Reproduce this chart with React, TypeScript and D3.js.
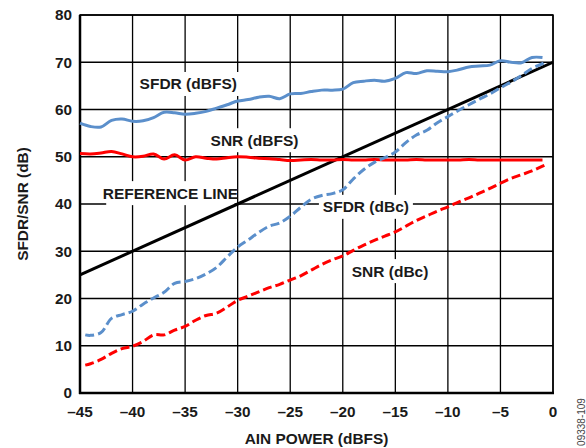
import * as React from "react";
import * as d3 from "d3";

// AIN power (dBFS) sample points
const ainFull = [-45, -44, -43, -42, -41, -40, -39, -38, -37, -36, -35, -34, -33, -32, -31, -30, -29, -28, -27, -26, -25, -24, -23, -22, -21, -20, -19, -18, -17, -16, -15, -14, -13, -12, -11, -10, -9, -8, -7, -6, -5, -4, -3, -2, -1];

const sfdrDbfs = [57.1, 56.4, 56.3, 57.7, 58.0, 57.5, 57.6, 58.3, 59.4, 59.3, 59.0, 59.2, 59.6, 60.3, 61.0, 61.8, 62.1, 62.6, 62.8, 62.3, 63.3, 63.4, 63.8, 64.1, 64.1, 64.3, 65.7, 66.0, 66.2, 66.0, 66.6, 67.8, 67.6, 68.2, 68.1, 68.0, 68.4, 69.0, 69.2, 69.4, 70.3, 70.0, 69.9, 71.0, 71.0];
const snrDbfs = [50.7, 50.6, 50.8, 51.1, 50.6, 50.0, 50.1, 50.6, 49.5, 50.4, 49.3, 50.0, 49.7, 49.5, 49.8, 50.0, 49.9, 49.7, 49.6, 49.4, 49.2, 49.3, 49.4, 49.3, 49.3, 49.4, 49.3, 49.3, 49.4, 49.3, 49.3, 49.3, 49.4, 49.3, 49.3, 49.3, 49.3, 49.4, 49.3, 49.3, 49.3, 49.3, 49.3, 49.3, 49.3];

const ainDbc = [-44.5, -44, -43, -42, -41, -40, -39, -38, -37, -36, -35, -34, -33, -32, -31, -30, -29, -28, -27, -26, -25, -24, -23, -22, -21, -20, -19, -18, -17, -16, -15, -14, -13, -12, -11, -10, -9, -8, -7, -6, -5, -4, -3, -2, -1, -0.6];
const sfdrDbc = [12.3, 12.2, 12.8, 15.8, 16.6, 17.3, 18.8, 20.1, 21.3, 23.2, 23.6, 24.2, 25.2, 26.6, 28.8, 30.9, 32.4, 34.0, 35.3, 36.0, 37.4, 39.3, 41.0, 41.8, 42.2, 43.0, 45.3, 47.3, 48.8, 49.8, 51.0, 53.0, 54.6, 55.6, 57.2, 58.5, 59.8, 61.0, 62.2, 63.3, 64.6, 65.8, 67.2, 68.7, 69.7, 70.3];
const snrDbc = [5.9, 6.2, 7.1, 8.4, 9.4, 9.9, 10.9, 12.3, 12.3, 13.3, 14.1, 15.4, 16.4, 16.9, 18.2, 19.6, 20.5, 21.4, 22.3, 23.0, 23.9, 24.8, 26.0, 27.2, 28.2, 29.0, 30.2, 31.3, 32.3, 33.2, 34.1, 35.3, 36.5, 37.5, 38.5, 39.4, 40.4, 41.3, 42.3, 43.3, 44.4, 45.4, 46.2, 47.0, 48.0, 48.4];

const refX = [-45, 0];
const refY = [25, 70];

const xTicks = [-45, -40, -35, -30, -25, -20, -15, -10, -5, 0];
const yTicks = [0, 10, 20, 30, 40, 50, 60, 70, 80];

const labelText = ["SFDR (dBFS)", "SNR (dBFS)", "REFERENCE LINE", "SFDR (dBc)", "SNR (dBc)"];
const labelX = [-34.7, -28.4, -36.4, -17.8, -15.5];
const labelY = [65.4, 53.5, 42.3, 39.4, 25.8];

const BLUE = "#5b8fcb";
const RED = "#ff0000";
const INK = "#1a1a1a";
const FONT = "'Liberation Sans', Arial, Helvetica, sans-serif";

export default function App() {
  const width = 586, height = 448;
  const margin = { top: 15, right: 33, bottom: 55, left: 80 };
  const x = d3.scaleLinear().domain([-45, 0]).range([margin.left, width - margin.right]);
  const y = d3.scaleLinear().domain([0, 80]).range([height - margin.bottom, margin.top]);

  const line = d3.line<[number, number]>()
    .x(d => x(d[0]))
    .y(d => y(d[1]))
    .curve(d3.curveCatmullRom.alpha(0.5));

  const zip = (xs: number[], ys: number[]) => xs.map((v, i) => [v, ys[i]] as [number, number]);

  const fmt = (v: number) => (v < 0 ? "\u2013" + Math.abs(v) : String(v));

  return (
    <svg width={width} height={height} style={{ position: "absolute", left: 0, top: 0, background: "#fff" }}
      fontFamily={FONT} fontWeight="bold">
      {/* grid */}
      <g stroke="#000" strokeWidth={1.3}>
        {xTicks.map(t => (
          <line key={"vx" + t} x1={x(t)} x2={x(t)} y1={y(80)} y2={y(0)} />
        ))}
        {yTicks.map(t => (
          <line key={"hy" + t} x1={x(-45)} x2={x(0)} y1={y(t)} y2={y(t)} />
        ))}
      </g>
      <rect x={x(-45)} y={y(80)} width={x(0) - x(-45)} height={y(0) - y(80)} fill="none" stroke="#000" strokeWidth={1.5} />
      <line x1={x(-45)} x2={x(-45)} y1={y(80)} y2={y(0) + 1} stroke="#000" strokeWidth={2.5} />
      <line x1={x(-45) - 1} x2={x(0) + 1} y1={y(0)} y2={y(0)} stroke="#000" strokeWidth={2.5} />

      {/* label boxes hide grid lines */}
      {labelText.map((t, i) => {
        const w = t.length * 8.6 + 8;
        return <rect key={"lb" + i} x={x(labelX[i]) - w / 2} y={y(labelY[i]) - 12} width={w} height={24} fill="#fff" />;
      })}

      {/* curves */}
      <g fill="none" strokeLinecap="butt" strokeLinejoin="round">
        <path d={line(zip(refX, refY)) || ""} stroke="#000" strokeWidth={3} />
        <path d={line(zip(ainFull, sfdrDbfs)) || ""} stroke={BLUE} strokeWidth={3} />
        <path d={line(zip(ainFull, snrDbfs)) || ""} stroke={RED} strokeWidth={3} />
        <path d={line(zip(ainDbc, sfdrDbc)) || ""} stroke={BLUE} strokeWidth={3} strokeDasharray="9,4" />
        <path d={line(zip(ainDbc, snrDbc)) || ""} stroke={RED} strokeWidth={3} strokeDasharray="9,4" />
      </g>

      {/* curve labels */}
      {labelText.map((t, i) => (
        <text key={"lt" + i} x={x(labelX[i])} y={y(labelY[i])} dy="0.35em" textAnchor="middle" fontSize={15.5} fill={INK}>
          {t}
        </text>
      ))}

      {/* tick labels */}
      {yTicks.map(t => (
        <text key={"yt" + t} x={x(-45) - 8} y={y(t)} dy="0.35em" textAnchor="end" fontSize={15.3} fill={INK}>
          {fmt(t)}
        </text>
      ))}
      {xTicks.map(t => (
        <text key={"xt" + t} x={x(t)} y={y(0) + 19} dy="0.35em" textAnchor="middle" fontSize={15.3} fill={INK}>
          {fmt(t)}
        </text>
      ))}

      {/* axis titles */}
      <text x={(x(-45) + x(0)) / 2} y={439} dy="0.35em" textAnchor="middle" fontSize={15.4} fill={INK}>
        AIN POWER (dBFS)
      </text>
      <text transform={`translate(23,${(y(0) + y(80)) / 2}) rotate(-90)`} dy="0.35em" textAnchor="middle" fontSize={15.4} fill={INK}>
        SFDR/SNR (dB)
      </text>

      {/* figure id */}
      <text transform={`translate(581,422) rotate(-90)`} dy="0.35em" textAnchor="middle" fontSize={10} fontWeight="normal" fill="#444">
        09338-109
      </text>
    </svg>
  );
}
